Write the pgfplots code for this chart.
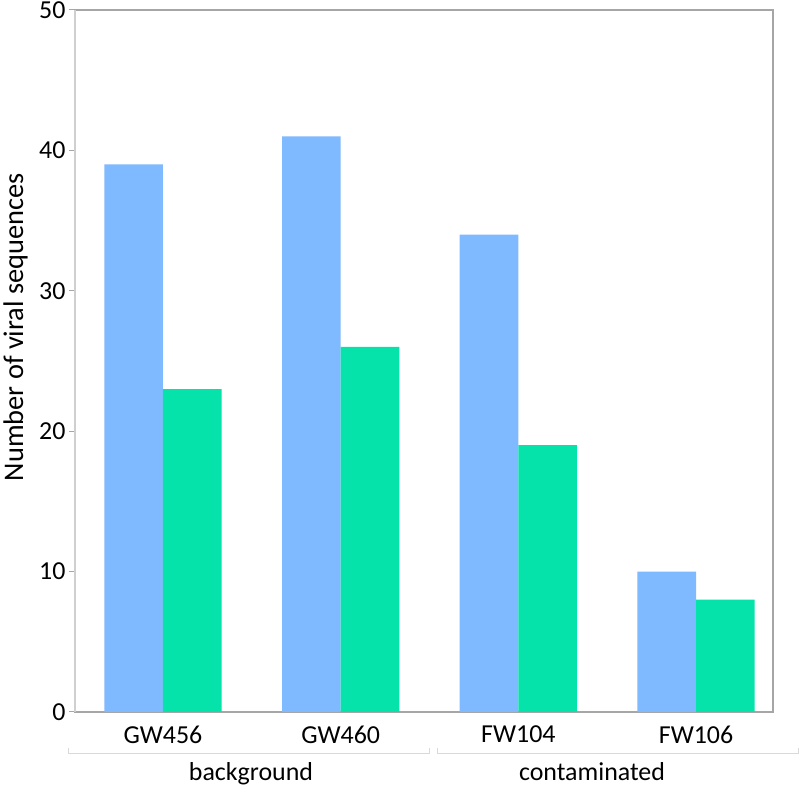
\documentclass[border=0pt]{standalone}
\usepackage{pgfplots}
\pgfplotsset{compat=1.18}
\usepackage{fontspec}
\setmainfont{Carlito}
\definecolor{barblue}{HTML}{7FB9FF}
\definecolor{bargreen}{HTML}{05E3AB}
\definecolor{axgray}{HTML}{A6A6A6}
\definecolor{lightax}{HTML}{CFCFCF}
\definecolor{brk}{HTML}{D9D9D9}
\begin{document}
\begin{tikzpicture}[x=1bp,y=1bp]
\begin{axis}[
  at={(75bp,74bp)}, anchor=south west,
  scale only axis, width=698bp, height=702bp,
  xmin=-0.495, xmax=3.433, ymin=0, ymax=50,
  ytick={0,10,20,30,40,50}, ytick pos=left,
  xtick={0,1,2,3}, xticklabels={GW456,GW460,FW104,FW106},
  x tick style={draw=none},
  y tick style={axgray, line width=1bp},
  tick align=outside, major tick length=6bp,
  axis line style={axgray, line width=1.2bp},
  tick label style={font=\fontsize{26}{30}\selectfont},
  xticklabel style={yshift=-4bp},
  /pgf/number format/assume math mode=true,
  ylabel={Number of viral sequences},
  ylabel style={font=\fontsize{28.5}{32}\selectfont, at={(axis description cs:-0.0745,0.548)}, anchor=base},
  clip=false,
  after end axis/.code={
    \draw[lightax, line width=1.2bp] (rel axis cs:0,0) -- (rel axis cs:0,1);
  },
]
\addplot[ybar, bar width=0.33, bar shift=-0.165, fill=barblue, draw=none]
  coordinates {(0,39) (1,41) (2,34) (3,10)};
\addplot[ybar, bar width=0.33, bar shift=0.165, fill=bargreen, draw=none]
  coordinates {(0,23) (1,26) (2,19) (3,8)};
\end{axis}
\draw[brk, line width=1bp] (68,38) -- (68,32) -- (429,32) -- (429,38);
\draw[brk, line width=1bp] (437,38) -- (437,32) -- (798,32) -- (798,38);
\node[font=\fontsize{26}{30}\selectfont, anchor=base] at (251,5) {background};
\node[font=\fontsize{26}{30}\selectfont, anchor=base] at (592,5) {contaminated};
\pgfresetboundingbox
\useasboundingbox (0,0) rectangle (800,786);
\end{tikzpicture}
\end{document}
